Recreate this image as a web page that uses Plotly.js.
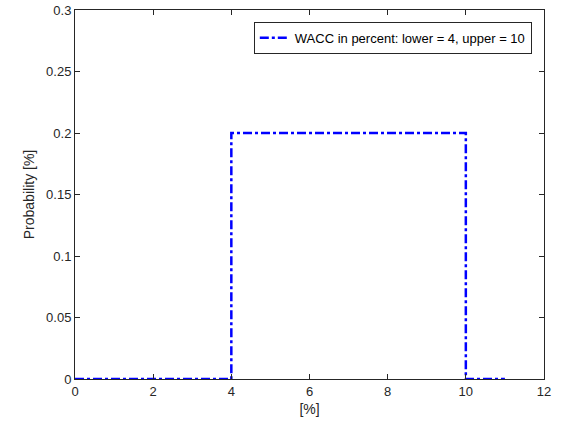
<!DOCTYPE html>
<html>
<head>
<meta charset="utf-8">
<script src="https://cdn.plot.ly/plotly-3.0.1.min.js"></script>
<style>html,body{margin:0;padding:0;background:#fff;}#chart{width:561px;height:424px;}</style>
</head>
<body>
<div id="chart"></div>
<script>
const xValues = [0, 4, 4, 10, 10, 11];
const yValues = [0, 0, 0.2, 0.2, 0, 0];
const seriesName = 'WACC in percent: lower = 4, upper = 10';
const xTicks = [0, 2, 4, 6, 8, 10, 12];
const yTicks = [0, 0.05, 0.1, 0.15, 0.2, 0.25, 0.3];
const yTickText = ['0', '0.05', '0.1', '0.15', '0.2', '0.25', '0.3'];

const axisColor = '#262626';
const fontFam = 'Liberation Sans, Arial, Helvetica, sans-serif';

const trace = {
  x: xValues, y: yValues, type: 'scatter', mode: 'lines', name: seriesName,
  line: {color: '#0000ff', width: 2.5, dash: 'dashdot'}
};

const layout = {
  width: 561, height: 424,
  margin: {l: 75, r: 17, t: 10, b: 45},
  paper_bgcolor: '#ffffff', plot_bgcolor: '#ffffff',
  font: {family: fontFam, size: 13, color: axisColor},
  showlegend: true,
  legend: {
    x: 0.974, y: 0.968, xanchor: 'right', yanchor: 'top',
    bgcolor: '#ffffff', bordercolor: axisColor, borderwidth: 1,
    font: {family: fontFam, size: 13, color: '#000000'},
    tracegroupgap: 0
  },
  xaxis: {
    range: [0, 12], tickvals: xTicks, ticktext: xTicks.map(String),
    ticks: 'inside', ticklen: 5, tickcolor: axisColor, tickwidth: 1,
    showline: true, linecolor: axisColor, linewidth: 1, mirror: 'ticks',
    showgrid: false, zeroline: false,
    tickfont: {family: fontFam, size: 13, color: axisColor},
    title: {text: '[%]', font: {family: fontFam, size: 14, color: axisColor}, standoff: 6}
  },
  yaxis: {
    range: [0, 0.3], tickvals: yTicks, ticktext: yTickText,
    ticks: 'inside', ticklen: 5, tickcolor: axisColor, tickwidth: 1,
    showline: true, linecolor: axisColor, linewidth: 1, mirror: 'ticks',
    showgrid: false, zeroline: false,
    tickfont: {family: fontFam, size: 13, color: axisColor},
    title: {text: 'Probability [%]', font: {family: fontFam, size: 14, color: axisColor}, standoff: 8}
  }
};

Plotly.newPlot('chart', [trace], layout, {displayModeBar: false, staticPlot: true});
</script>
</body>
</html>
